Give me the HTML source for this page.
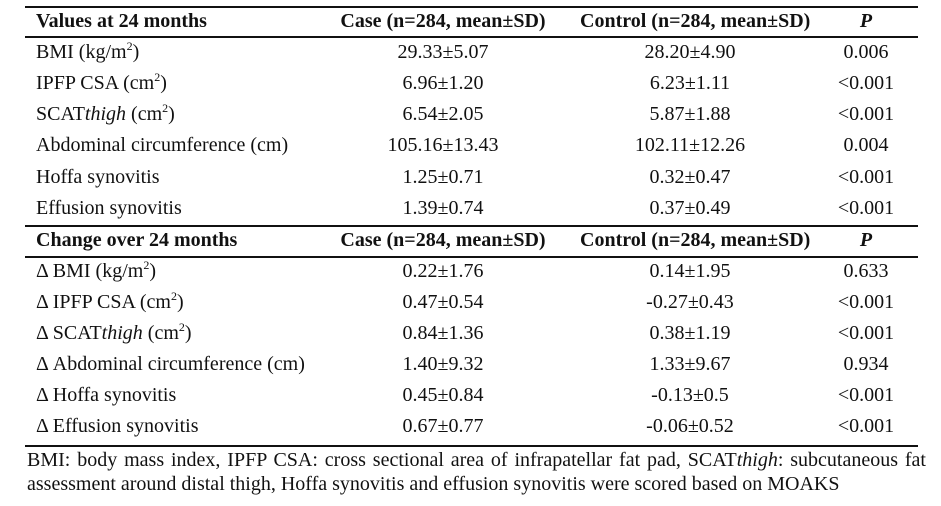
<!DOCTYPE html>
<html><head><meta charset="utf-8"><style>
body{margin:0;width:941px;height:506px;background:#fff;position:relative;font-family:"Liberation Serif",serif;font-size:20px;color:#111;overflow:hidden}
.l{position:absolute;left:25px;width:893px;height:2px;background:#111}
.r{position:absolute;left:0;width:941px;height:31px;line-height:31px}
.r span{position:absolute;white-space:nowrap}
.a{left:36px}
.b{left:333px;width:220px;text-align:center}
.c{left:580px;width:220px;text-align:center}
.d{left:816px;width:100px;text-align:center}
.h{font-weight:bold}
sup{font-size:12px;line-height:0;vertical-align:8px}
.f{position:absolute;left:27px;width:891px;line-height:24px;white-space:nowrap}
</style></head><body>
<div class="l" style="top:6px"></div>
<div class="l" style="top:36px"></div>
<div class="l" style="top:225px"></div>
<div class="l" style="top:256px"></div>
<div class="l" style="top:445px"></div>
<div class="r h" style="top:6px"><span class="a">Values at 24 months</span><span class="b">Case (n=284, mean±SD)</span><span class="c">Control (n=284, mean±SD)</span><span class="d"><i>P</i></span></div>
<div class="r" style="top:37px"><span class="a">BMI (kg/m<sup>2</sup>)</span><span class="b">29.33±5.07</span><span class="c">28.20±4.90</span><span class="d">0.006</span></div>
<div class="r" style="top:68px"><span class="a">IPFP CSA (cm<sup>2</sup>)</span><span class="b">6.96±1.20</span><span class="c">6.23±1.11</span><span class="d">&lt;0.001</span></div>
<div class="r" style="top:99px"><span class="a">SCAT<i>thigh</i> (cm<sup>2</sup>)</span><span class="b">6.54±2.05</span><span class="c">5.87±1.88</span><span class="d">&lt;0.001</span></div>
<div class="r" style="top:130px"><span class="a">Abdominal circumference (cm)</span><span class="b">105.16±13.43</span><span class="c">102.11±12.26</span><span class="d">0.004</span></div>
<div class="r" style="top:162px"><span class="a">Hoffa synovitis</span><span class="b">1.25±0.71</span><span class="c">0.32±0.47</span><span class="d">&lt;0.001</span></div>
<div class="r" style="top:193px"><span class="a">Effusion synovitis</span><span class="b">1.39±0.74</span><span class="c">0.37±0.49</span><span class="d">&lt;0.001</span></div>
<div class="r h" style="top:225px"><span class="a">Change over 24 months</span><span class="b">Case (n=284, mean±SD)</span><span class="c">Control (n=284, mean±SD)</span><span class="d"><i>P</i></span></div>
<div class="r" style="top:256px"><span class="a">Δ BMI (kg/m<sup>2</sup>)</span><span class="b">0.22±1.76</span><span class="c">0.14±1.95</span><span class="d">0.633</span></div>
<div class="r" style="top:287px"><span class="a">Δ IPFP CSA (cm<sup>2</sup>)</span><span class="b">0.47±0.54</span><span class="c">-0.27±0.43</span><span class="d">&lt;0.001</span></div>
<div class="r" style="top:318px"><span class="a">Δ SCAT<i>thigh</i> (cm<sup>2</sup>)</span><span class="b">0.84±1.36</span><span class="c">0.38±1.19</span><span class="d">&lt;0.001</span></div>
<div class="r" style="top:349px"><span class="a">Δ Abdominal circumference (cm)</span><span class="b">1.40±9.32</span><span class="c">1.33±9.67</span><span class="d">0.934</span></div>
<div class="r" style="top:380px"><span class="a">Δ Hoffa synovitis</span><span class="b">0.45±0.84</span><span class="c">-0.13±0.5</span><span class="d">&lt;0.001</span></div>
<div class="r" style="top:411px"><span class="a">Δ Effusion synovitis</span><span class="b">0.67±0.77</span><span class="c">-0.06±0.52</span><span class="d">&lt;0.001</span></div>
<div class="f" style="top:448px;text-align:justify;text-align-last:justify;white-space:normal;width:899px">BMI: body mass index, IPFP CSA: cross sectional area of infrapatellar fat pad, SCAT<i>thigh</i>: subcutaneous fat</div>
<div class="f" style="top:472px">assessment around distal thigh, Hoffa synovitis and effusion synovitis were scored based on MOAKS</div>
</body></html>
